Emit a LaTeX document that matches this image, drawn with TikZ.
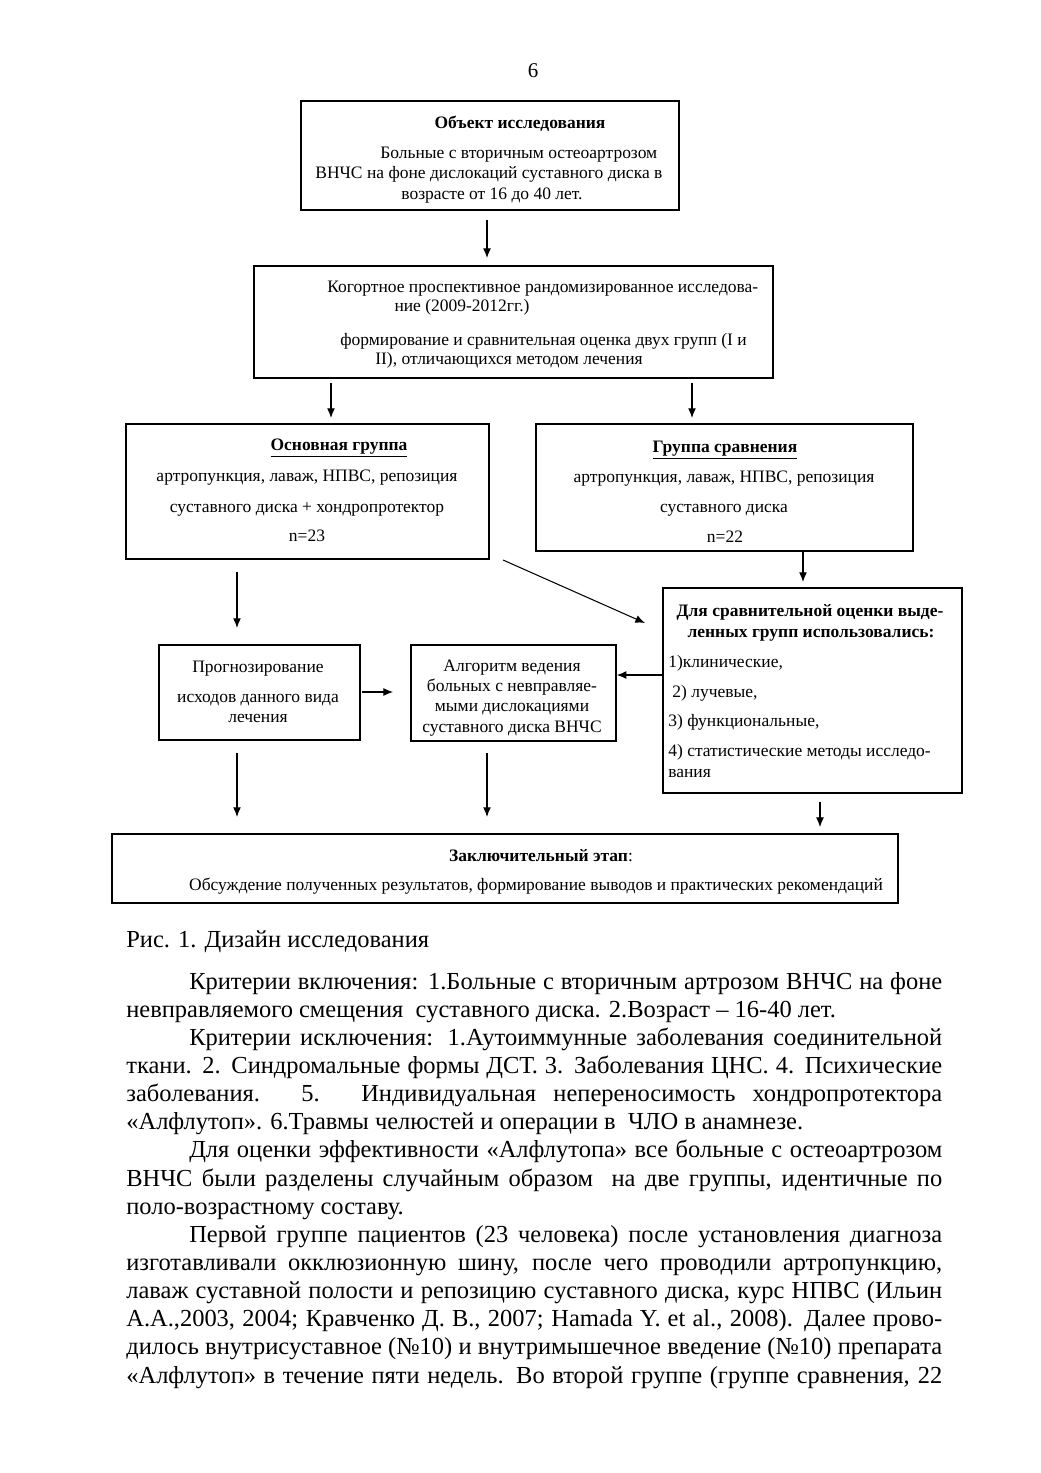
\documentclass[tikz,border=0pt]{standalone}
\usepackage{fontspec}
\setmainfont{Liberation Serif}
\usetikzlibrary{arrows.meta}
\newcommand\mybox[5]{\node[box, minimum width={(#4-#2)*0.5721pt}, minimum height={(#5-#3)*0.5721pt}] (#1) at (#2,#3) {};}
\def\W{466.8pt}
\begin{document}
\begin{tikzpicture}[x=0.5721pt,y=-0.5721pt,
 box/.style={draw, line width=1pt, inner sep=0pt, anchor=north west},
 t/.style={inner sep=0pt, anchor=base, font=\fontsize{10}{12}\selectfont},
 tl/.style={t, anchor=base west},
 arr/.style={-{Latex[length=5.5pt,width=4.5pt]}, line width=0.6pt},
 bl/.style={inner sep=0pt, anchor=base west, font=\fontsize{14}{16.1}\selectfont},
]
\fill[white] (0,0) rectangle (1040,1473);
\useasboundingbox (0,0) rectangle (1040,1473);

\node[t, font=\fontsize{12}{14}\selectfont] (pn) at (533,78) {6};

% boxes
\mybox{b1}{300}{100}{678}{209}
\mybox{b2}{253}{265}{772}{377}
\mybox{b3}{125}{423}{488}{558}
\mybox{b4}{535}{423}{912}{550}
\mybox{b5}{662}{587}{961}{792}
\mybox{b6}{158}{644}{359}{739}
\mybox{b7}{410}{644}{615}{740}
\mybox{b8}{111}{833}{897}{902}

% box 1
\node[t] (t11) at (520,129) {\textbf{Объект исследования}};
\node[tl] (t12) at (380,159) {Больные с вторичным остеоартрозом};
\node[tl] (t13) at (315,179) {ВНЧС на фоне дислокаций суставного диска в};
\node[t] (t14) at (492,199) {возрасте от 16 до 40 лет.};
% box 2
\node[tl] (t21) at (327,292) {Когортное проспективное рандомизированное исследова-};
\node[t] (t22) at (462,311) {ние (2009-2012гг.)};
\node[tl] (t23) at (340,345) {формирование и сравнительная оценка двух групп (I и};
\node[tl] (t24) at (375,364) {II), отличающихся методом лечения};
% box 3
\node[t] (t31) at (339,450) {\underline{\textbf{Основная группа}}};
\node[t] (t32) at (307,481) {артропункция, лаваж, НПВС, репозиция};
\node[t] (t33) at (307,512) {суставного диска + хондропротектор};
\node[t] (t34) at (307,541) {n=23};
% box 4
\node[t] (t41) at (725,452) {\underline{\textbf{Группа сравнения}}};
\node[t] (t42) at (724,482) {артропункция, лаваж, НПВС, репозиция};
\node[t] (t43) at (724,512) {суставного диска};
\node[t] (t44) at (725,542) {n=22};
% box 5
\node[t] (t51) at (810,616) {\textbf{Для сравнительной оценки выде-}};
\node[t] (t52) at (811,637) {\textbf{ленных групп использовались:}};
\node[tl] (t53) at (668,667) {1)клинические,};
\node[tl] (t54) at (672,697) {2) лучевые,};
\node[tl] (t55) at (668,726) {3) функциональные,};
\node[tl] (t56) at (668,756) {4) статистические методы исследо-};
\node[tl] (t57) at (668,777) {вания};
% box 6
\node[t] (t61) at (258,672) {Прогнозирование};
\node[t] (t62) at (258,702) {исходов данного вида};
\node[t] (t63) at (258,722) {лечения};
% box 7
\node[t] (t71) at (512,671) {Алгоритм ведения};
\node[t] (t72) at (512,691) {больных с невправляе-};
\node[t] (t73) at (512,711) {мыми дислокациями};
\node[t] (t74) at (512,732) {суставного диска ВНЧС};
% box 8
\node[t] (t81) at (541,861) {\textbf{Заключительный этап}:};
\node[t] (t82) at (536,890) {Обсуждение полученных результатов, формирование выводов и практических рекомендаций};

% arrows
\coordinate (a1) at (487,220);
\coordinate (a2) at (331,383);
\coordinate (a3) at (692,383);
\coordinate (a4) at (803,552);
\coordinate (a5) at (237,572);
\coordinate (a6) at (503,560);
\coordinate (a6e) at (645,623);
\coordinate (a7) at (662,675);
\coordinate (a8) at (362,692);
\coordinate (a9) at (237,753);
\coordinate (a10) at (487,753);
\coordinate (a11) at (820,802);
\draw[arr, shorten >=4pt] (a1) -- (a1 |- b2.north);
\draw[arr, shorten >=2.9pt] (a2) -- (a2 |- b3.north);
\draw[arr, shorten >=2.9pt] (a3) -- (a3 |- b4.north);
\draw[arr, shorten >=2.9pt] (a4) -- (a4 |- b5.north);
\draw[arr, shorten >=9.2pt] (a5) -- (a5 |- b6.north);
\draw[arr] (a6) -- (a6e);
\draw[arr] (a7) -- (a7 -| b7.east);
\draw[arr, shorten >=9.7pt] (a8) -- (a8 -| b7.west);
\draw[arr, shorten >=9.2pt] (a9) -- (a9 |- b8.north);
\draw[arr, shorten >=9.2pt] (a10) -- (a10 |- b8.north);
\draw[arr, shorten >=3.4pt] (a11) -- (a11 |- b8.north);

% body text
\node[bl] (cap) at (126,947) {Рис. 1. Дизайн исследования};
\node[bl] (l0) at (126,989.0) {\hbox to\W{\hskip36pt Критерии включения: 1.Больные с вторичным артрозом ВНЧС на фоне}};
\node[bl] (l1) at (126,1017.1) {невправляемого смещения\ \ суставного диска. 2.Возраст – 16-40 лет.};
\node[bl] (l2) at (126,1045.3) {\hbox to\W{\hskip36pt Критерии исключения: 1.Аутоиммунные заболевания соединительной}};
\node[bl] (l3) at (126,1073.4) {\hbox to\W{ткани. 2. Синдромальные формы ДСТ. 3. Заболевания ЦНС. 4. Психические}};
\node[bl] (l4) at (126,1101.6) {\hbox to\W{заболевания. 5. Индивидуальная непереносимость хондропротектора}};
\node[bl] (l5) at (126,1129.7) {«Алфлутоп». 6.Травмы челюстей и операции в\ \ ЧЛО в анамнезе.};
\node[bl] (l6) at (126,1157.8) {\hbox to\W{\hskip36pt Для оценки эффективности «Алфлутопа» все больные с остеоартрозом}};
\node[bl] (l7) at (126,1186.0) {\hbox to\W{ВНЧС были разделены случайным образом\ \ на две группы, идентичные по}};
\node[bl] (l8) at (126,1214.1) {поло-возрастному составу.};
\node[bl] (l9) at (126,1242.3) {\hbox to\W{\hskip36pt Первой группе пациентов (23 человека) после установления диагноза}};
\node[bl] (l10) at (126,1270.4) {\hbox to\W{изготавливали окклюзионную шину, после чего проводили артропункцию,}};
\node[bl] (l11) at (126,1298.5) {\hbox to\W{лаваж суставной полости и репозицию суставного диска, курс НПВС (Ильин}};
\node[bl] (l12) at (126,1326.7) {\hbox to\W{А.А.,2003, 2004; Кравченко Д. В., 2007; Hamada Y. et al., 2008). Далее прово-}};
\node[bl] (l13) at (126,1354.8) {\hbox to\W{дилось внутрисуставное (№10) и внутримышечное введение (№10) препарата}};
\node[bl] (l14) at (126,1383.0) {\hbox to\W{«Алфлутоп» в течение пяти недель. Во второй группе (группе сравнения, 22}};
\end{tikzpicture}
\end{document}
